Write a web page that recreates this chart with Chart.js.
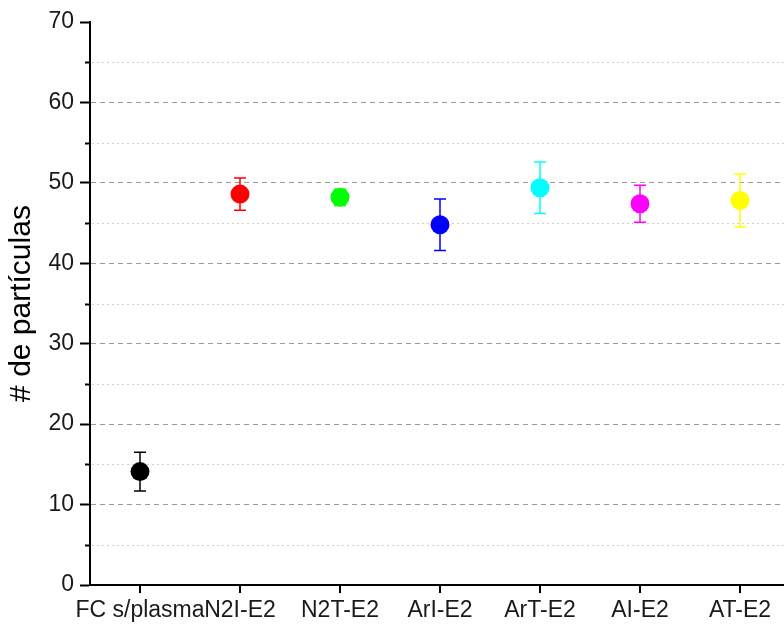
<!DOCTYPE html>
<html>
<head>
<meta charset="utf-8">
<script src="https://cdn.jsdelivr.net/npm/chart.js@4.4.1/dist/chart.umd.min.js"></script>
<style>
html, body { margin: 0; padding: 0; background: #fff; overflow: hidden; }
#wrap { width: 784px; height: 627px; }
</style>
</head>
<body>
<div id="wrap"><canvas id="particleChart"></canvas></div>
<script>
/*====================================
        DATA
====================================*/

const categories = ["FC s/plasma", "N2I-E2", "N2T-E2", "ArI-E2", "ArT-E2", "AI-E2", "AT-E2"];

const means = [14.1, 48.6, 48.2, 44.8, 49.4, 47.4, 47.8];

const errors = [2.4, 2.0, 1.0, 3.2, 3.2, 2.3, 3.3];

const pointColors = ["#000000", "#ff0000", "#00ff00", "#0000ff", "#00ffff", "#ff00ff", "#ffff00"];

const yTicks = [0, 10, 20, 30, 40, 50, 60, 70];

const yMinorTicks = [5, 15, 25, 35, 45, 55, 65];


/*====================================
        MINOR GRID + ERROR BARS
====================================*/

const extrasPlugin = {
    id: "extras",
    beforeDatasetsDraw(chart) {
        const ctx = chart.ctx;
        const x = chart.scales.x;
        const y = chart.scales.y;
        const area = chart.chartArea;

        ctx.save();

        // minor dotted grid lines and short ticks
        yMinorTicks.forEach(v => {
            const py = Math.round(y.getPixelForValue(v)) + 0.5;
            ctx.strokeStyle = "#d0d0d0";
            ctx.lineWidth = 1;
            ctx.setLineDash([2, 3]);
            ctx.beginPath();
            ctx.moveTo(area.left + 2, py);
            ctx.lineTo(area.right, py);
            ctx.stroke();

            ctx.setLineDash([]);
            ctx.strokeStyle = "#000";
            ctx.lineWidth = 2;
            ctx.beginPath();
            ctx.moveTo(area.left - 5, py);
            ctx.lineTo(area.left, py);
            ctx.stroke();
        });

        // error bars
        ctx.setLineDash([]);
        ctx.lineWidth = 1.5;
        means.forEach((m, i) => {
            const px = x.getPixelForValue(i);
            const top = y.getPixelForValue(m + errors[i]);
            const bot = y.getPixelForValue(m - errors[i]);
            ctx.strokeStyle = pointColors[i];
            ctx.beginPath();
            ctx.moveTo(px, top);
            ctx.lineTo(px, bot);
            ctx.moveTo(px - 6, top);
            ctx.lineTo(px + 6, top);
            ctx.moveTo(px - 6, bot);
            ctx.lineTo(px + 6, bot);
            ctx.stroke();
        });

        ctx.restore();
    }
};


/*====================================
        CHART
====================================*/

const particleChart = new Chart(

document.getElementById("particleChart"),

{

type: "scatter",

data: {
    datasets: [{
        label: "# de partículas",
        data: means.map((m, i) => ({ x: i, y: m })),
        pointBackgroundColor: pointColors,
        pointBorderColor: pointColors,
        pointRadius: 9.5,
        pointHoverRadius: 9.5,
        pointBorderWidth: 0
    }]
},

options: {

    responsive: true,
    maintainAspectRatio: false,
    animation: false,

    layout: {
        autoPadding: false,
        padding: { top: 22, right: 0, left: 0, bottom: 0 }
    },

    plugins: {
        legend: { display: false },
        tooltip: { enabled: false }
    },

    scales: {

        x: {
            type: "linear",
            min: -0.5,
            max: 6.44,
            afterBuildTicks: scale => {
                scale.ticks = categories.map((c, i) => ({ value: i }));
            },
            afterFit: scale => {
                scale.height = 42;
                scale.paddingLeft = 0;
                scale.paddingRight = 0;
            },
            ticks: {
                autoSkip: false,
                maxRotation: 0,
                color: "#1a1a1a",
                padding: 4,
                font: { family: "Liberation Sans, Arial", size: 23 },
                callback: v => categories[v]
            },
            grid: {
                display: true,
                drawOnChartArea: false,
                drawTicks: true,
                tickLength: 8,
                tickColor: "#000",
                lineWidth: 2
            },
            border: { display: true, color: "#000", width: 2 }
        },

        y: {
            min: 0,
            max: 70,
            afterBuildTicks: scale => {
                scale.ticks = yTicks.map(v => ({ value: v }));
            },
            afterFit: scale => { scale.width = 90; },
            ticks: {
                color: "#1a1a1a",
                padding: 6,
                font: { family: "Liberation Sans, Arial", size: 23 }
            },
            title: {
                display: true,
                text: "# de partículas",
                color: "#000",
                padding: { top: 4, bottom: 0 },
                font: { family: "Liberation Sans, Arial", size: 30 }
            },
            grid: {
                color: c => (c.tick && (c.tick.value === 0 || c.tick.value === 70)) ? "rgba(0,0,0,0)" : "#9a9a9a",
                lineWidth: 1,
                tickBorderDash: [],
                tickColor: "#000",
                tickWidth: 2,
                tickLength: 10
            },
            border: { display: true, color: "#000", width: 2, dash: [5, 4] }
        }

    }

},

plugins: [extrasPlugin]

});
</script>
</body>
</html>
